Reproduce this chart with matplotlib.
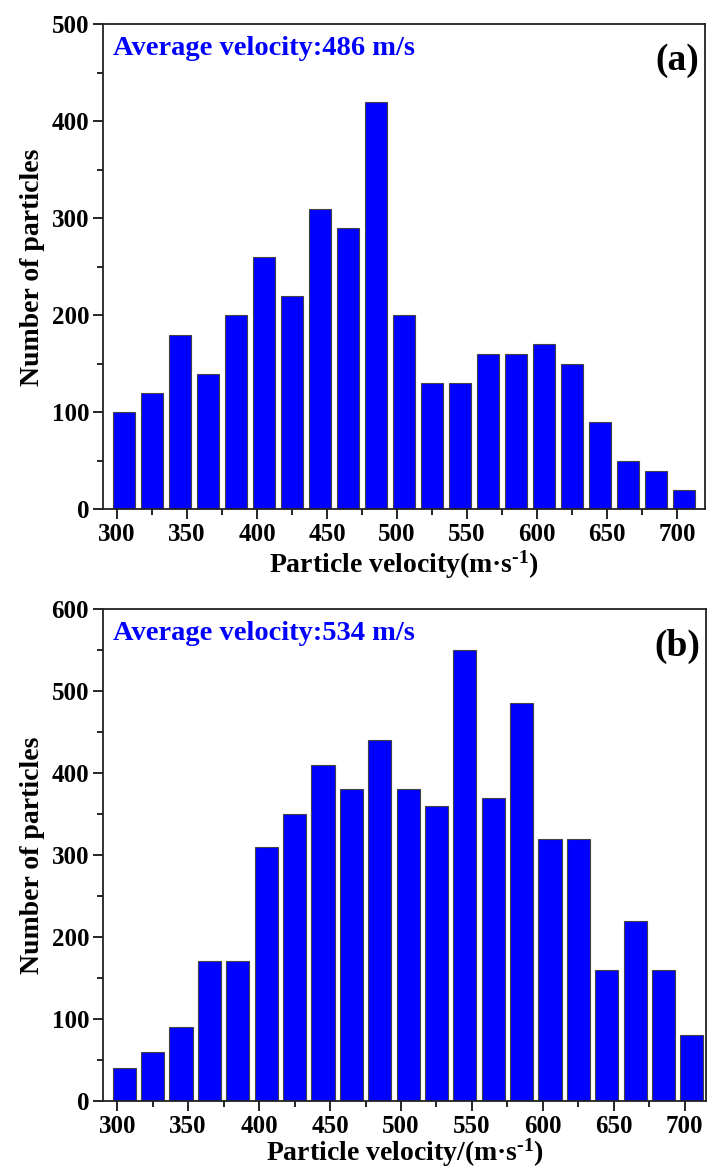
import matplotlib
matplotlib.use("Agg")
import matplotlib.pyplot as plt
from matplotlib.ticker import MultipleLocator

# ── Данные ────────────────────────────────────────────────────────────────
velocity = [305, 325, 345, 365, 385, 405, 425, 445, 465, 485, 505,
            525, 545, 565, 585, 605, 625, 645, 665, 685, 705]

counts_a = [100, 120, 180, 140, 200, 260, 220, 310, 290, 420, 200,
            130, 130, 160, 160, 170, 150, 90, 50, 40, 20]
counts_b = [40, 60, 90, 170, 170, 310, 350, 410, 380, 440, 380,
            360, 550, 370, 485, 320, 320, 160, 220, 160, 80]

avg_a = "Average velocity:486 m/s"
avg_b = "Average velocity:534 m/s"
xlabel_a = "Particle velocity(m\u00b7s$^{\u20101}$)"
xlabel_b = "Particle velocity/(m\u00b7s$^{\u20101}$)"

plt.rcParams["font.family"] = ["Liberation Serif", "DejaVu Serif"]
plt.rcParams["font.weight"] = "bold"
plt.rcParams["mathtext.fontset"] = "custom"
plt.rcParams["mathtext.rm"] = "Liberation Serif:bold"
plt.rcParams["mathtext.it"] = "Liberation Serif:bold"
plt.rcParams["mathtext.bf"] = "Liberation Serif:bold"

fig = plt.figure(figsize=(7.07, 11.69), dpi=100)
ax_a = fig.add_axes([0.1457, 0.5643, 0.8515, 0.4149])
ax_b = fig.add_axes([0.1457, 0.0584, 0.8530, 0.4204])

panels = [
    (ax_a, counts_a, 500, avg_a, "(a)", xlabel_a, 2),
    (ax_b, counts_b, 600, avg_b, "(b)", xlabel_b, -1),
]

for ax, counts, ymax, avg, tag, xlabel, xpad in panels:
    ax.bar(velocity, counts, width=16.3, color="#0000ff",
           edgecolor="#444444", linewidth=0.8, zorder=2)
    ax.set_xlim(290, 720 if ymax == 500 else 715)
    ax.set_ylim(0, ymax)
    ax.xaxis.set_major_locator(MultipleLocator(50))
    ax.xaxis.set_minor_locator(MultipleLocator(25))
    ax.yaxis.set_major_locator(MultipleLocator(100))
    ax.yaxis.set_minor_locator(MultipleLocator(50))
    ax.tick_params(which="major", direction="out", length=7, width=1.2,
                   labelsize=18, pad=3)
    ax.tick_params(which="minor", direction="out", length=4, width=1.2)
    for spine in ax.spines.values():
        spine.set_linewidth(1.3)
        spine.set_edgecolor("#222222")
    for lab in ax.get_xticklabels() + ax.get_yticklabels():
        lab.set_fontweight("bold")

    ax.set_ylabel("Number of particles", fontsize=20, fontweight="bold",
                  labelpad=5)
    ax.set_xlabel(xlabel, fontsize=20, fontweight="bold", labelpad=xpad)
    ax.text(0.017, 0.95, avg, transform=ax.transAxes, color="#0000ff",
            fontsize=20.5, fontweight="bold", ha="left", va="center")
    ax.text(0.99, 0.925, tag, transform=ax.transAxes, color="black",
            fontsize=27, fontweight="bold", ha="right", va="center")

fig.align_ylabels([ax_a, ax_b])
fig.savefig("out.png", dpi=100, facecolor="white")
